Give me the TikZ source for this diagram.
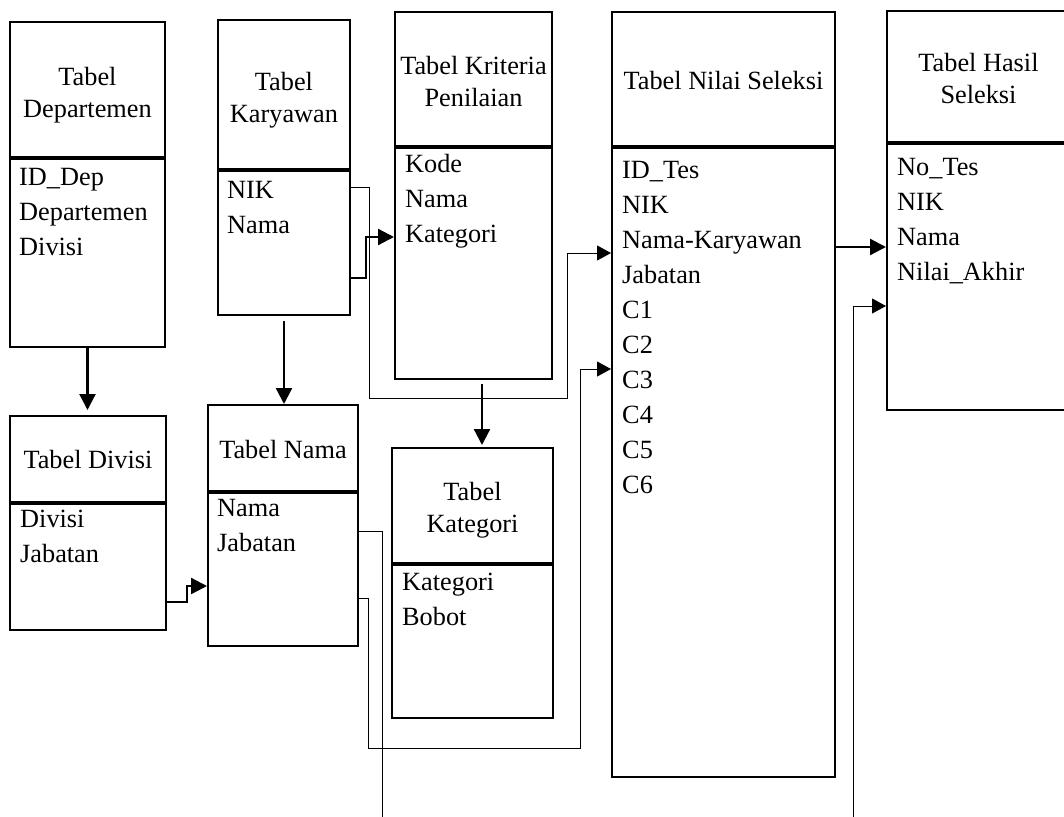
\documentclass[tikz,border=0pt]{standalone}
\usepackage{fontspec}
\setmainfont{Liberation Serif}
\usetikzlibrary{arrows.meta, positioning}

\begin{document}
\begin{tikzpicture}[x=1pt, y=-1pt,
  every node/.style={font=\fontsize{26.3}{32}\selectfont},
  hd/.style={draw, line width=2pt, inner sep=0pt},
  ttl/.style={align=center, inner sep=0pt},
  bd/.style={draw, line width=2pt, anchor=north, inner sep=0pt},
  fld/.style={anchor=north west, align=left, inner sep=0pt, font=\fontsize{26.3}{35}\selectfont},
  thk/.style={line width=2.3pt, -{Triangle[length=16pt, width=16pt]}},
  thn/.style={line width=1pt, -{Triangle[length=14pt, width=15pt]}}]
  \useasboundingbox (0,0) rectangle (1064,816);
  % tabel atas
  \node[hd, minimum width=155, minimum height=135] (dep) at (87.5,89.5) {};
  \node[ttl] (depT) at (87.5,95) {Tabel\\Departemen};
  \node[bd, minimum width=155, minimum height=188] (depB) at (dep.south) {};
  \node[fld] (depF) at (19,168) {ID\_Dep\\Departemen\\Divisi};
  \node[hd, minimum width=132, minimum height=149] (kar) at (284,94.5) {};
  \node[ttl] (karT) at (284,100) {Tabel\\Karyawan};
  \node[bd, minimum width=132, minimum height=144] (karB) at (kar.south) {};
  \node[fld] (karF) at (227,181) {NIK\\Nama};
  \node[hd, minimum width=157, minimum height=134] (kri) at (473.5,79) {};
  \node[ttl] (kriT) at (473.5,82) {Tabel Kriteria\\Penilaian};
  \node[bd, minimum width=157, minimum height=231] (kriB) at (kri.south) {};
  \node[fld] (kriF) at (405,154) {Kode\\Nama\\Kategori};
  \node[hd, minimum width=223, minimum height=134] (nil) at (723.5,79) {};
  \node[ttl] (nilT) at (723.5,81) {Tabel Nilai Seleksi};
  \node[bd, minimum width=223, minimum height=629] (nilB) at (nil.south) {};
  \node[fld] (nilF) at (622,161) {ID\_Tes\\NIK\\Nama-Karyawan\\Jabatan\\C1\\C2\\C3\\C4\\C5\\C6};
  \node[hd, minimum width=183, minimum height=131] (has) at (978.5,76.5) {};
  \node[ttl] (hasT) at (978.5,78.5) {Tabel Hasil\\Seleksi};
  \node[bd, minimum width=183, minimum height=266] (hasB) at (has.south) {};
  \node[fld] (hasF) at (897,158) {No\_Tes\\NIK\\Nama\\Nilai\_Akhir};
  % tabel bawah
  \node[hd, minimum width=156, minimum height=86] (div) at (88,459) {};
  \node[ttl] (divT) at (88,459) {Tabel Divisi};
  \node[bd, minimum width=156, minimum height=126] (divB) at (div.south) {};
  \node[fld] (divF) at (20,510) {Divisi\\Jabatan};
  \node[hd, minimum width=150, minimum height=86] (nam) at (283,448) {};
  \node[ttl] (namT) at (283,449) {Tabel Nama};
  \node[bd, minimum width=150, minimum height=153] (namB) at (nam.south) {};
  \node[fld] (namF) at (217,499) {Nama\\Jabatan};
  \node[hd, minimum width=161, minimum height=115] (kat) at (472.5,505.5) {};
  \node[ttl] (katT) at (472.5,510.5) {Tabel\\Kategori};
  \node[bd, minimum width=161, minimum height=153] (katB) at (kat.south) {};
  \node[fld] (katF) at (402,573) {Kategori\\Bobot};
  % relasi
  \draw[thk, shorten >=5pt] (depB.south) -- (depB.south |- div.north);
  \draw[thk, shorten <=5pt] (karB.south) -- (karB.south |- nam.north);
  \draw[thk, shorten <=4pt, shorten >=2pt] ([xshift=8.5pt]kriB.south) -- ([xshift=8.5pt]kriB.south |- kat.north);
  \draw[thk] (karB.east |- 0,278) -| (366,237) -- (kriB.west |- 0,237);
  \draw[thk] (divB.east |- 0,602) -| (187,586) -- (namB.west |- 0,586);
  \draw[thk] (nilB.east |- 0,247) -- (hasB.west |- 0,247);
  \draw[thn] (karB.east |- 0,187) -| (369,398) -| (567,253) -- (nilB.west |- 0,253);
  \draw[thn] (namB.east |- 0,598) -| (368,748) -| (580,369) -- (nilB.west |- 0,369);
  \draw[thn] (namB.east |- 0,531) -| (382,840) -| (853,306) -- (hasB.west |- 0,306);
\end{tikzpicture}
\end{document}
